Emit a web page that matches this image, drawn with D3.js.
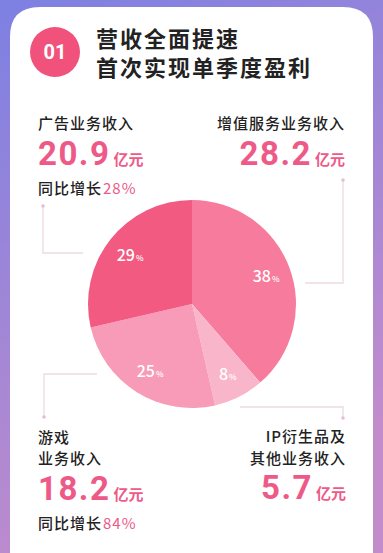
<!DOCTYPE html>
<html>
<head>
<meta charset="utf-8">
<script src="https://cdn.jsdelivr.net/npm/d3@7"></script>
<style>
  html, body { margin: 0; padding: 0; background: #fff; }
  svg { display: block; font-family: "Noto Sans CJK SC", "Noto Sans", sans-serif; }
</style>
</head>
<body>
<div id="chart"></div>
<script>
// chart data
const segments = ["增值服务业务收入", "IP衍生品及其他业务收入", "游戏业务收入", "广告业务收入"];
const revenue = [28.2, 5.7, 18.2, 20.9];      // 亿元
const shares = [38, 8, 25, 29];               // % label printed in slice
const growth = [null, null, 84, 28];          // 同比增长 %
const sliceColors = ["#f77b9c", "#f9b6cb", "#f79bb8", "#f25a81"];

const titleLines = ["营收全面提速", "首次实现单季度盈利"];

const W = 383, H = 553;
const pink = "#ee5a88";
const numFont = "Roboto, 'Noto Sans', sans-serif";

const svg = d3.select("#chart").append("svg")
    .attr("width", W)
    .attr("height", H);

// background gradient + white card
const defs = svg.append("defs");
const bg = defs.append("linearGradient")
    .attr("id", "bg").attr("x1", 0).attr("y1", 0).attr("x2", 0.35).attr("y2", 1);
bg.append("stop").attr("offset", "0%").attr("stop-color", "#7d80e2");
bg.append("stop").attr("offset", "100%").attr("stop-color", "#c28ccb");

svg.append("rect").attr("width", W).attr("height", H).attr("fill", "url(#bg)");

const card = {x: 10, y: 7, w: 363, r: 30};
svg.append("path")
    .attr("d", `M${card.x},${H + 5} V${card.y + card.r} Q${card.x},${card.y} ${card.x + card.r},${card.y}
      H${card.x + card.w - card.r} Q${card.x + card.w},${card.y} ${card.x + card.w},${card.y + card.r} V${H + 5} Z`)
    .attr("fill", "#fff");

// header badge + title
svg.append("circle").attr("cx", 55).attr("cy", 52).attr("r", 25).attr("fill", "#f0527c");
svg.append("text")
    .attr("x", 55).attr("y", 59)
    .attr("text-anchor", "middle")
    .attr("fill", "#fff")
    .attr("font-family", numFont)
    .attr("font-size", 20).attr("font-weight", 700)
    .text("01");

svg.append("text")
    .attr("fill", "#222")
    .attr("font-size", 22).attr("font-weight", 700)
    .attr("letter-spacing", 2)
  .selectAll("tspan")
    .data(titleLines)
    .join("tspan")
    .attr("x", 96)
    .attr("y", (d, i) => 47 + i * 29)
    .text(d => d);

// pie
const cx = 192, cy = 304, r = 104;
const pie = d3.pie().sort(null).value(d => d.value);
const rows = segments.map((s, i) => ({name: s, value: revenue[i], share: shares[i], color: sliceColors[i]}));
const arcs = pie(rows);
const arc = d3.arc().innerRadius(0).outerRadius(r);
const labelArc = d3.arc().innerRadius(r * 0.76).outerRadius(r * 0.76);

// leader lines (drawn under pie)
const lineColor = "#eddae3";
const leaders = [
  [[cx + 151, cy - 124], [cx + 151, cy - 21], [cx + 113, cy - 21]],
  [[cx + 151, cy + 114], [cx + 151, cy + 103], [cx + 48, cy + 103]],
  [[cx - 148, cy + 113], [cx - 148, cy + 70], [cx - 95, cy + 70]],
  [[cx - 149, cy - 98], [cx - 149, cy - 51], [cx - 109, cy - 51]]
];
const lg = svg.append("g");
lg.selectAll("path")
    .data(leaders)
    .join("path")
    .attr("d", d => d3.line()(d))
    .attr("fill", "none")
    .attr("stroke", lineColor)
    .attr("stroke-width", 1.3);
lg.selectAll("circle")
    .data(leaders)
    .join("circle")
    .attr("cx", d => d[0][0]).attr("cy", d => d[0][1])
    .attr("r", 1.8)
    .attr("fill", "#e4bfcf");

const pg = svg.append("g").attr("transform", `translate(${cx},${cy})`);
pg.selectAll("path")
    .data(arcs)
    .join("path")
    .attr("d", arc)
    .attr("fill", d => d.data.color);

const pl = pg.selectAll("text")
    .data(arcs)
    .join("text")
    .attr("transform", d => `translate(${labelArc.centroid(d)})`)
    .attr("text-anchor", "middle")
    .attr("dy", "0.36em")
    .attr("fill", "#fff")
    .attr("font-size", 16).attr("font-weight", 500);
pl.append("tspan").text(d => d.data.share);
pl.append("tspan").attr("font-size", 8).attr("dx", 1).text("%");

// annotations
const lineGap = 21.8;
const notes = [
  {i: 0, x: 345, anchor: "end", name: ["增值服务业务收入"], y: 129},
  {i: 1, x: 346, anchor: "end", name: ["IP衍生品及", "其他业务收入"], y: 442},
  {i: 2, x: 38, anchor: "start", name: ["游戏", "业务收入"], y: 442.5},
  {i: 3, x: 38, anchor: "start", name: ["广告业务收入"], y: 129}
];

notes.forEach(n => {
  const g = svg.append("g");
  g.selectAll(".nm")
      .data(n.name)
      .join("text")
      .attr("x", n.x)
      .attr("y", (d, k) => n.y + k * lineGap)
      .attr("text-anchor", n.anchor)
      .attr("fill", "#222")
      .attr("font-size", 15).attr("font-weight", 500)
      .attr("letter-spacing", 1)
      .text(d => d);
  const vy = n.y + (n.name.length - 1) * lineGap + 35.5;
  const val = g.append("text")
      .attr("x", n.x)
      .attr("y", vy)
      .attr("text-anchor", n.anchor)
      .attr("fill", pink)
      .attr("font-weight", 700);
  val.append("tspan").attr("font-family", numFont).attr("font-size", 33).attr("letter-spacing", 1.5).text(revenue[n.i].toFixed(1));
  val.append("tspan").attr("font-size", 15).attr("dx", 3).text("亿元");
  if (growth[n.i] != null) {
    const gt = g.append("text")
        .attr("x", n.x)
        .attr("y", vy + 29)
        .attr("font-size", 15)
        .attr("letter-spacing", 1);
    gt.append("tspan").attr("fill", "#222").attr("font-weight", 500).text("同比增长");
    gt.append("tspan").attr("fill", pink).attr("dx", 1).text(growth[n.i] + "%");
  }
});
</script>
</body>
</html>
